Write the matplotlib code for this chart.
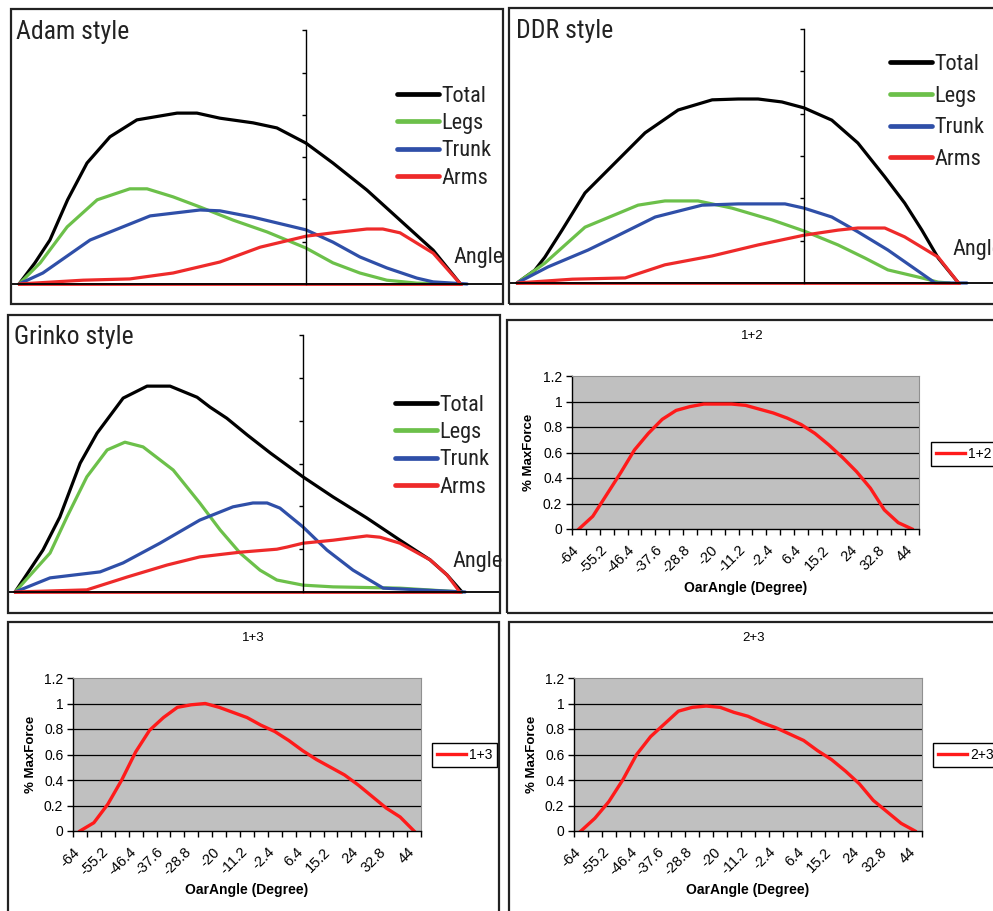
import matplotlib
matplotlib.use('Agg')
import matplotlib.pyplot as plt
from matplotlib import font_manager
from matplotlib.font_manager import FontProperties
from matplotlib.patches import Rectangle
from matplotlib.ticker import FixedLocator, NullFormatter
from matplotlib.transforms import ScaledTranslation

# ---- force curves of the three rowing styles (angle in deg, force in N) ----
adam_total_ang = [-65, -61.4, -58, -54, -49.6, -44.4, -38.3, -29.2, -24.7, -19.5, -12, -6.6, 0, 6.1, 13.8, 21.3, 28.8, 35]
adam_total = [0, 50, 104, 199, 286, 348, 388, 404, 404, 392, 381, 369, 333, 286, 222, 151, 80, 0]
adam_legs_ang = [-65, -60.2, -54.1, -47.3, -39.9, -36, -30.1, -24, -16.5, -8.8, 0, 6.1, 12.2, 18.3, 25.1, 35]
adam_legs = [0, 50, 135, 199, 225, 225, 206, 182, 151, 123, 85, 50, 26, 9, 2, 0]
adam_trunk_ang = [-65, -59.6, -48.9, -35.3, -24, -19.5, -12, 0, 6.1, 12.2, 18.3, 25.1, 28.8, 36.5]
adam_trunk = [0, 26, 104, 161, 175, 173, 158, 128, 99, 64, 38, 14, 5, 0]
adam_arms_ang = [-65, -50.5, -39.9, -30.1, -19.5, -10.4, 0, 6.1, 13.8, 17.4, 21.3, 28.8, 35]
adam_arms = [0, 9, 12, 26, 52, 87, 113, 121, 130, 130, 121, 73, 0]

ddr_total_ang = [-65, -61, -58.7, -54.8, -49.6, -42.8, -36, -28.5, -20.8, -14.9, -10.4, -5, 0, 6.3, 12.2, 18.3, 22.8, 26.7, 30.4, 35]
ddr_total = [0, 30, 61, 125, 213, 284, 355, 409, 433, 435, 435, 428, 414, 385, 331, 251, 189, 125, 59, 0]
ddr_legs_ang = [-65, -58.7, -49.6, -37.6, -31.5, -24, -16.3, -7.2, 0, 7.7, 13.8, 19, 26.7, 30.4, 33]
ddr_legs = [0, 47, 132, 184, 194, 194, 177, 149, 123, 90, 59, 31, 12, 2, 0]
ddr_trunk_ang = [-65, -58, -48.9, -42.8, -33.7, -23.1, -14.9, -4.3, 0, 6.3, 12.2, 19, 24.5, 29.7, 36.9]
ddr_trunk = [0, 38, 78, 109, 156, 184, 187, 187, 177, 156, 121, 78, 38, 0, 0]
ddr_arms_ang = [-65, -52.5, -40.5, -31.5, -20.8, -10.4, 0, 7.7, 12.2, 18.3, 22.8, 30.4, 35]
ddr_arms = [0, 9, 12, 43, 64, 90, 113, 125, 130, 130, 109, 61, 0]

grinko_total_ang = [-65, -58.7, -54.9, -50.3, -46.5, -40.6, -35.2, -30, -23.9, -21, -17.2, -12.6, -7.4, 0, 6.8, 14.4, 21.9, 28.7, 32.5, 35.9]
grinko_total = [0, 98, 175, 301, 371, 453, 481, 481, 455, 432, 406, 367, 325, 269, 222, 173, 121, 75, 40, 0]
grinko_legs_ang = [-65, -57.1, -53.3, -48.8, -44.2, -40.2, -36.1, -29.3, -23.3, -18.7, -14.2, -9.7, -5.9, 0, 6.8, 21.9, 35.9]
grinko_legs = [0, 91, 175, 269, 332, 350, 339, 285, 208, 145, 91, 51, 28, 16, 12, 9, 0]
grinko_trunk_ang = [-65, -57.1, -45.8, -40.6, -32.3, -23.3, -15.8, -11.3, -8.1, -5.2, 0, 5.4, 11.3, 18.1, 36.6]
grinko_trunk = [0, 33, 47, 68, 114, 168, 199, 208, 208, 196, 152, 98, 51, 9, 0]
grinko_arms_ang = [-65, -48.8, -39.7, -30.7, -23.3, -14.2, -5.9, -3.6, 0, 6.8, 14.4, 17.4, 21.9, 28.7, 32.5, 35.4]
grinko_arms = [0, 5, 35, 63, 82, 93, 100, 105, 114, 121, 131, 128, 114, 75, 40, 0]

# ---- combined normalised force curves (25 oar angle categories) ----
angle_labels = ['-64', '-55.2', '-46.4', '-37.6', '-28.8', '-20', '-11.2',
                '-2.4', '6.4', '15.2', '24', '32.8', '44']
mf_12 = [0, 0.10, 0.27, 0.44, 0.62, 0.75, 0.86, 0.93, 0.96, 0.98, 0.98, 0.98, 0.97,
         0.94, 0.91, 0.87, 0.82, 0.75, 0.66, 0.56, 0.45, 0.32, 0.15, 0.05, 0]
mf_13 = [0, 0.065, 0.21, 0.40, 0.62, 0.79, 0.89, 0.97, 0.99, 1.0, 0.97, 0.93, 0.89,
         0.83, 0.78, 0.71, 0.63, 0.56, 0.50, 0.44, 0.36, 0.27, 0.18, 0.11, 0]
mf_23 = [0, 0.10, 0.23, 0.40, 0.60, 0.74, 0.84, 0.94, 0.97, 0.98, 0.97, 0.93, 0.90,
         0.85, 0.81, 0.76, 0.71, 0.63, 0.56, 0.47, 0.37, 0.24, 0.15, 0.06, 0]

W, H = 993, 911
fig = plt.figure(figsize=(W / 100, H / 100), dpi=100)

ARIAL = 'Liberation Sans'


# narrow sans for the hand drawn panels, if one is installed
def narrow_file():
    fl = font_manager.fontManager.ttflist
    for f in fl:
        if f.name in ('Liberation Sans Narrow', 'Arial Narrow', 'Roboto Condensed') \
                and f.style == 'normal' and f.weight in (400, 'normal', 'regular'):
            return f.fname
    for f in fl:
        if f.name == 'DejaVu Sans' and f.stretch in ('condensed', 'semi-condensed') \
                and f.style == 'normal' and f.weight in (400, 'normal', 'regular'):
            return f.fname
    return None


NFILE = narrow_file()


def nprop(size):
    if NFILE:
        return FontProperties(fname=NFILE, size=size)
    return FontProperties(family=ARIAL, size=size * 0.92)


COL = {'Total': 'black', 'Legs': '#6cc04a', 'Trunk': '#2f4fa8', 'Arms': '#ee2a2a'}


def frac(x0, y0, x1, y1):
    return [x0 / W, 1 - y1 / H, (x1 - x0) / W, (y1 - y0) / H]


def fbox(x0, y0, x1, y1):
    fig.add_artist(Rectangle((x0 / W, 1 - y1 / H), (x1 - x0) / W, (y1 - y0) / H,
                             transform=fig.transFigure, fill=False, lw=1.6, ec='#222222'))


def ftext(x, y, s, **kw):
    return fig.text(x / W, 1 - y / H, s, **kw)


def hand_panel(rect, origin, sx, sy, curves, title, title_xy, angle_xy, leg_xy, leg_gap):
    x0, y0, x1, y1 = rect
    ox, oy = origin
    fbox(*rect)
    ax = fig.add_axes(frac(*rect))
    ax.set_xlim((x0 - ox) / sx, (x1 - ox) / sx)
    ax.set_ylim((oy - y1) / sy, (oy - y0) / sy)
    ax.patch.set_visible(False)
    for s in ['top', 'right']:
        ax.spines[s].set_visible(False)
    ax.spines['left'].set_position(('data', 0))
    ax.spines['left'].set_bounds(0, 600)
    ax.spines['left'].set_linewidth(1.0)
    ax.spines['bottom'].set_position(('data', 0))
    ax.spines['bottom'].set_linewidth(1.3)
    ax.set_xticks([])
    ax.set_yticks([100, 200, 300, 400, 500, 600])
    ax.yaxis.set_major_formatter(NullFormatter())
    ax.tick_params(axis='y', direction='out', length=3, width=1)

    handles = []
    for name, ang, val in curves:
        ln, = ax.plot(ang, val, color=COL[name], lw=2.3, solid_joinstyle='round',
                      solid_capstyle='round', label=name)
        handles.append(ln)
    # arms series lies on the zero line as well
    arms_ang = curves[-1][1]
    ax.plot(arms_ang, [0] * len(arms_ang), color=COL['Arms'], lw=2.0)

    lp = nprop(16)
    leg = ax.legend(handles=handles, loc='upper left',
                    bbox_to_anchor=(leg_xy[0] / W, 1 - leg_xy[1] / H),
                    bbox_transform=fig.transFigure, frameon=False,
                    prop=lp, handlelength=1.9,
                    handletextpad=0.1, labelspacing=leg_gap, borderpad=0, borderaxespad=0)
    for l in leg.get_lines():
        l.set_linewidth(3.4)
    for t in leg.get_texts():
        t.set_color('#222222')
    ftext(title_xy[0], title_xy[1], title, fontproperties=nprop(18.5), color='#222222',
          va='baseline')
    ftext(angle_xy[0], angle_xy[1], 'Angle', fontproperties=nprop(16), color='#222222',
          va='baseline')


def excel_panel(rect, plot, vals, name, title_xy, leg_xy, ylab_x, xlab_y):
    fbox(*rect)
    ax = fig.add_axes(frac(*plot))
    ax.set_facecolor('#c0c0c0')
    cats = list(range(len(vals)))
    ax.plot(cats, vals, color='#ff1a1a', lw=2.4, label=name, solid_joinstyle='round')
    ax.set_xlim(-0.5, len(vals) - 0.5)
    ax.set_ylim(0, 1.2)
    ax.set_yticks([0, 0.2, 0.4, 0.6, 0.8, 1.0, 1.2])
    ax.set_yticklabels(['0', '0.2', '0.4', '0.6', '0.8', '1', '1.2'], family=ARIAL, size=10)
    for g in [0.2, 0.4, 0.6, 0.8, 1.0]:
        ax.axhline(g, color='black', lw=0.9, zorder=1)
    ax.xaxis.set_major_locator(FixedLocator([c - 0.5 for c in cats] + [len(vals) - 0.5]))
    ax.xaxis.set_major_formatter(NullFormatter())
    ax.xaxis.set_minor_locator(FixedLocator(cats[::2]))
    ax.tick_params(axis='x', which='major', direction='out', length=4, width=1)
    ax.tick_params(axis='x', which='minor', length=0, pad=10)
    ax.tick_params(axis='y', direction='out', length=4, width=1, pad=3)
    ax.set_xticklabels(angle_labels, minor=True, family=ARIAL, size=10.5,
                       rotation=45, ha='right', rotation_mode='anchor')
    shift = ScaledTranslation(-7 / 100, 0, fig.dpi_scale_trans)
    for lbl in ax.get_xticklabels(minor=True):
        lbl.set_transform(lbl.get_transform() + shift)
    for s in ['top', 'right']:
        ax.spines[s].set_color('#909090')
    for s in ['left', 'bottom']:
        ax.spines[s].set_color('black')
        ax.spines[s].set_linewidth(1.0)
    leg = ax.legend(loc='upper left', bbox_to_anchor=(leg_xy[0] / W, 1 - leg_xy[1] / H),
                    bbox_transform=fig.transFigure, fancybox=False, edgecolor='black',
                    framealpha=1, prop={'family': ARIAL, 'size': 10}, handlelength=2.1,
                    handletextpad=0.2, borderpad=0.35, borderaxespad=0)
    leg.get_frame().set_linewidth(1.0)
    px0, py0, px1, py1 = plot
    ftext(title_xy[0], title_xy[1], name, family=ARIAL, size=9.5, ha='center', va='center')
    ftext(ylab_x, (py0 + py1) / 2, '% MaxForce', family=ARIAL, size=9.5, weight='bold',
          rotation=90, ha='center', va='center')
    ftext((px0 + px1) / 2, xlab_y, 'OarAngle (Degree)', family=ARIAL, size=10,
          weight='bold', ha='center', va='center')


hand_panel((11, 9, 503, 304), (306, 284), 4.415, 0.423,
           [('Total', adam_total_ang, adam_total), ('Legs', adam_legs_ang, adam_legs),
            ('Trunk', adam_trunk_ang, adam_trunk), ('Arms', adam_arms_ang, adam_arms)],
           'Adam style', (16, 39), (453, 263), (397, 86), 0.28)
hand_panel((509, 8, 1000, 304), (804, 283), 4.415, 0.423,
           [('Total', ddr_total_ang, ddr_total), ('Legs', ddr_legs_ang, ddr_legs),
            ('Trunk', ddr_trunk_ang, ddr_trunk), ('Arms', ddr_arms_ang, ddr_arms)],
           'DDR style', (516, 38), (952, 255), (890, 54), 0.48)
hand_panel((8, 315, 500, 613), (303, 592), 4.43, 0.428,
           [('Total', grinko_total_ang, grinko_total), ('Legs', grinko_legs_ang, grinko_legs),
            ('Trunk', grinko_trunk_ang, grinko_trunk), ('Arms', grinko_arms_ang, grinko_arms)],
           'Grinko style', (14, 344), (452, 567), (395, 395), 0.28)

excel_panel((507, 320, 1000, 613), (572, 376, 919, 529), mf_12, '1+2',
            (752, 336), (931, 442), 529, 588)
excel_panel((8, 622, 499, 930), (73, 678, 421, 831), mf_13, '1+3',
            (253, 638), (432, 743), 31, 890)
excel_panel((509, 622, 1000, 930), (574, 678, 922, 831), mf_23, '2+3',
            (754, 638), (933, 743), 532, 890)

fig.savefig('out.png', dpi=100)
